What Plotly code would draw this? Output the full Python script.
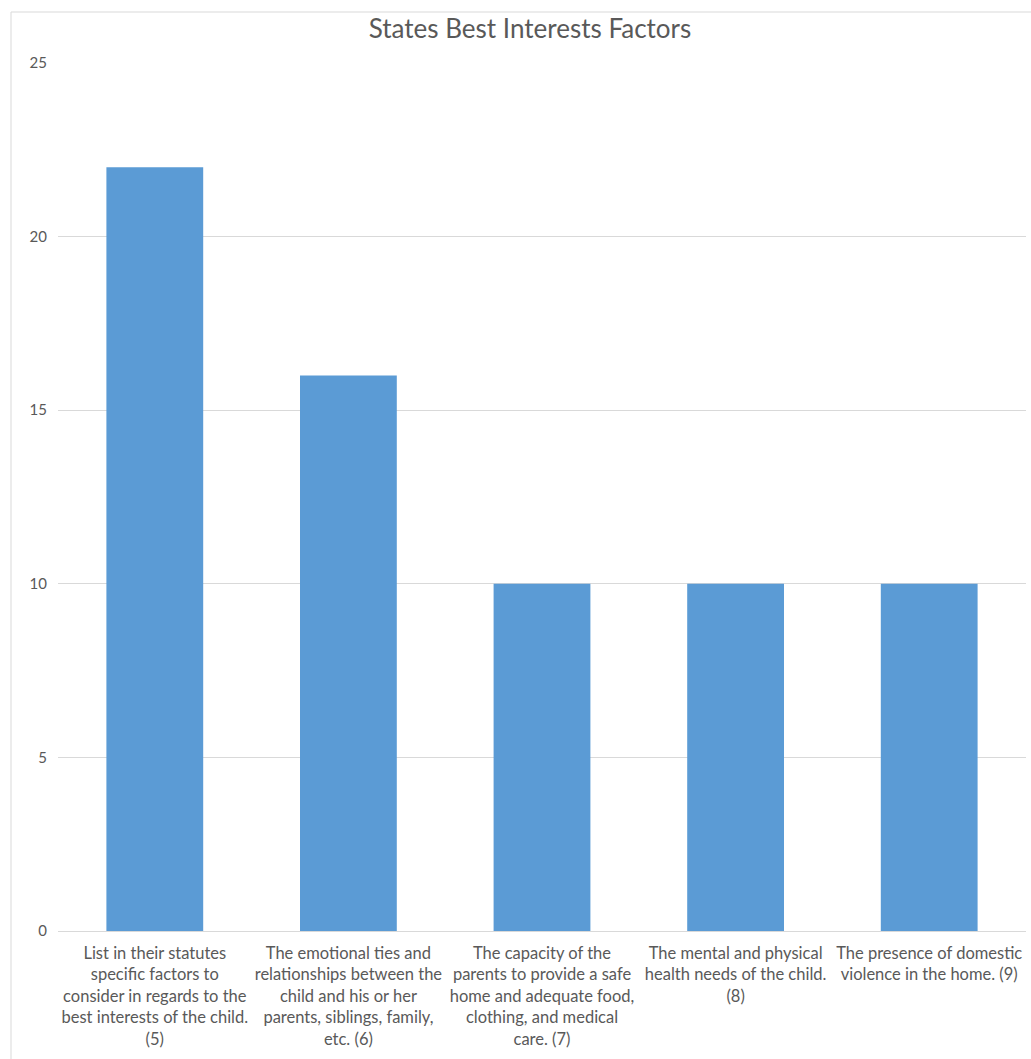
import plotly.graph_objects as go

categories = [
    "List in their statutes<br>specific factors to<br>consider in regards to the<br>best interests of the child.<br>(5)",
    "The emotional ties and<br>relationships between the<br>child and his or her<br>parents, siblings, family,<br>etc. (6)",
    "The capacity of the<br>parents to provide a safe<br>home and adequate food,<br>clothing, and medical<br>care. (7)",
    "The mental and physical<br>health needs of the child.<br>(8)",
    "The presence of domestic<br>violence in the home. (9)",
]
values = [22, 16, 10, 10, 10]
y_ticks = [0, 5, 10, 15, 20, 25]

W, H = 1031, 1059
ml, mr, mt, mb = 58, 5, 63, 128
pw, ph = W - ml - mr, H - mt - mb

fig = go.Figure(go.Bar(
    x=categories, y=values,
    marker=dict(color="#5b9bd5", line=dict(width=0)),
    width=0.5,
))

fig.update_layout(
    width=W, height=H,
    margin=dict(l=ml, r=mr, t=mt, b=mb),
    paper_bgcolor="white", plot_bgcolor="white",
    font=dict(family="Lato, Open Sans, sans-serif", color="#595959", size=16),
    title=dict(text="States Best Interests Factors", x=530 / W, xref="container", xanchor="center",
               y=1 - 29 / H, yref="container", yanchor="middle",
               font=dict(size=26, color="#595959")),
    showlegend=False,
    bargap=0.5,
)
fig.update_yaxes(range=[0, 25], tickvals=y_ticks, showgrid=True, gridcolor="#d9d9d9", gridwidth=1,
                 zeroline=False, showline=False, ticks="", ticklabelstandoff=10,
                 tickfont=dict(size=15, color="#595959"))
fig.update_xaxes(showline=True, linecolor="#d9d9d9", linewidth=1, ticks="", showgrid=False,
                 tickangle=0, tickfont=dict(size=16.5, color="#595959"), ticklabelstandoff=7)

# chart area border
fig.add_shape(type="rect", xref="paper", yref="paper",
              x0=(11 - ml) / pw, x1=1 + 20 / pw,
              y0=-(mb + 20) / ph, y1=1 + (mt - 12) / ph,
              line=dict(color="#d9d9d9", width=1), fillcolor="rgba(0,0,0,0)", layer="below")

fig.write_html("out.html")
